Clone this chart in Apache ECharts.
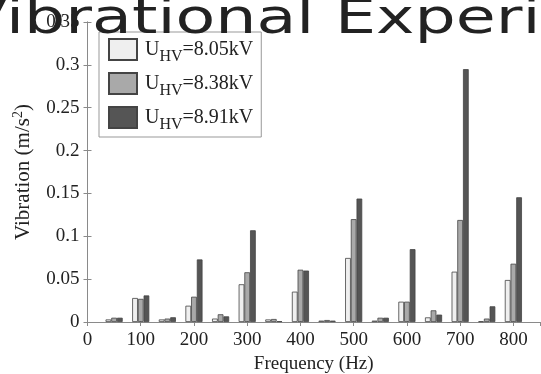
<!DOCTYPE html>
<html><head><meta charset="utf-8">
<script src="https://cdn.jsdelivr.net/npm/echarts@6/dist/echarts.min.js"></script>
<style>html,body{margin:0;padding:0;background:#fff}#c{width:541px;height:374px}</style>
</head><body><div id="c"></div>
<script>
const freqs = [50,100,150,200,250,300,350,400,450,500,550,600,650,700,750,800];
const v805 = [0.003,0.028,0.003,0.019,0.004,0.044,0.003,0.0354,0.0016,0.0747,0.0016,0.0237,0.0054,0.0587,0.0008,0.049];
const v838 = [0.005,0.027,0.004,0.0295,0.009,0.058,0.0035,0.061,0.0023,0.120,0.005,0.0237,0.0136,0.119,0.004,0.068];
const v891 = [0.005,0.031,0.0055,0.073,0.0066,0.107,0.001,0.060,0.0016,0.144,0.005,0.085,0.0086,0.295,0.0183,0.1455];
const voltages = ['8.05','8.38','8.91'];
const colors = ['#efefef','#a9a9a9','#555555'];
const titleText = 'Vibrational Experiment';
const xName = 'Frequency (Hz)';
const yName = 'Vibration (m/s{sup|2})';

const serif = '"Liberation Serif", "Times New Roman", serif';
const chart = echarts.init(document.getElementById('c'));
const allVals = [v805, v838, v891];
const series = allVals.map((vals, i) => ({
  name: voltages[i],
  type: 'bar',
  barWidth: 5.7,
  barGap: '0%',
  data: freqs.map((f, j) => [f, vals[j]]),
  itemStyle: { color: colors[i], borderColor: '#444', borderWidth: 0.8 }
}));
const axisLineStyle = { color: '#8a8a8a', width: 1 };
chart.setOption({
  animation: false,
  textStyle: { fontFamily: serif },
  grid: { left: 87.5, right: 1, top: 22, bottom: 52, containLabel: false, outerBoundsMode: 'none' },
  legend: {
    orient: 'vertical', left: 99, top: 32,
    padding: [6, 8, 4, 9], itemGap: 7, itemWidth: 28, itemHeight: 21,
    borderColor: '#999', borderWidth: 1, backgroundColor: '#fff',
    data: voltages,
    icon: 'rect',
    formatter: v => 'U{s|HV}=' + v + 'kV',
    textStyle: {
      fontFamily: serif, fontSize: 20, color: '#222', padding: [0, 0, 0, 3],
      rich: { s: { fontFamily: serif, fontSize: 16, color: '#222', padding: [15, 0, 0, 0] } }
    }
  },
  xAxis: [{
    type: 'value', min: 0, max: 850, interval: 100,
    name: xName, nameLocation: 'middle', nameGap: 33, nameMoveOverlap: false,
    nameTextStyle: { fontFamily: serif, fontSize: 19, color: '#222' },
    axisLine: { show: true, lineStyle: axisLineStyle },
    axisTick: { show: true, inside: true, length: 4, lineStyle: axisLineStyle },
    axisLabel: { fontFamily: serif, fontSize: 19, color: '#222', margin: 9, showMaxLabel: false },
    splitLine: { show: false }
  }, {
    type: 'value', min: 0, max: 850, interval: 100, position: 'top',
    axisLine: { show: true, lineStyle: axisLineStyle },
    axisTick: { show: true, inside: true, length: 4, lineStyle: axisLineStyle },
    axisLabel: { show: false }, splitLine: { show: false }
  }],
  yAxis: [{
    type: 'value', min: 0, max: 0.35, interval: 0.05,
    name: yName, nameLocation: 'middle', nameGap: 52, nameRotate: 90, nameMoveOverlap: false,
    nameTextStyle: { fontFamily: serif, fontSize: 21, color: '#222',
      rich: { sup: { fontFamily: serif, fontSize: 14, color: '#222', padding: [0, 0, 10, 0] } } },
    axisLine: { show: true, lineStyle: axisLineStyle },
    axisTick: { show: true, inside: true, length: 4, lineStyle: axisLineStyle },
    axisLabel: { fontFamily: serif, fontSize: 19, color: '#222', margin: 8 },
    splitLine: { show: false }
  }, {
    type: 'value', min: 0, max: 0.35, interval: 0.05, position: 'right',
    axisLine: { show: true, lineStyle: axisLineStyle },
    axisTick: { show: true, inside: true, length: 4, lineStyle: axisLineStyle },
    axisLabel: { show: false }, splitLine: { show: false }
  }],
  series: series,
  graphic: [{
    type: 'text', x: -37, y: 20.5, scaleY: 0.73, z: 100, zlevel: 1,
    style: { text: titleText, fontFamily: '"DejaVu Sans"', fontSize: 65, fill: '#222',
             align: 'left', verticalAlign: 'middle' }
  }]
});
</script></body></html>
